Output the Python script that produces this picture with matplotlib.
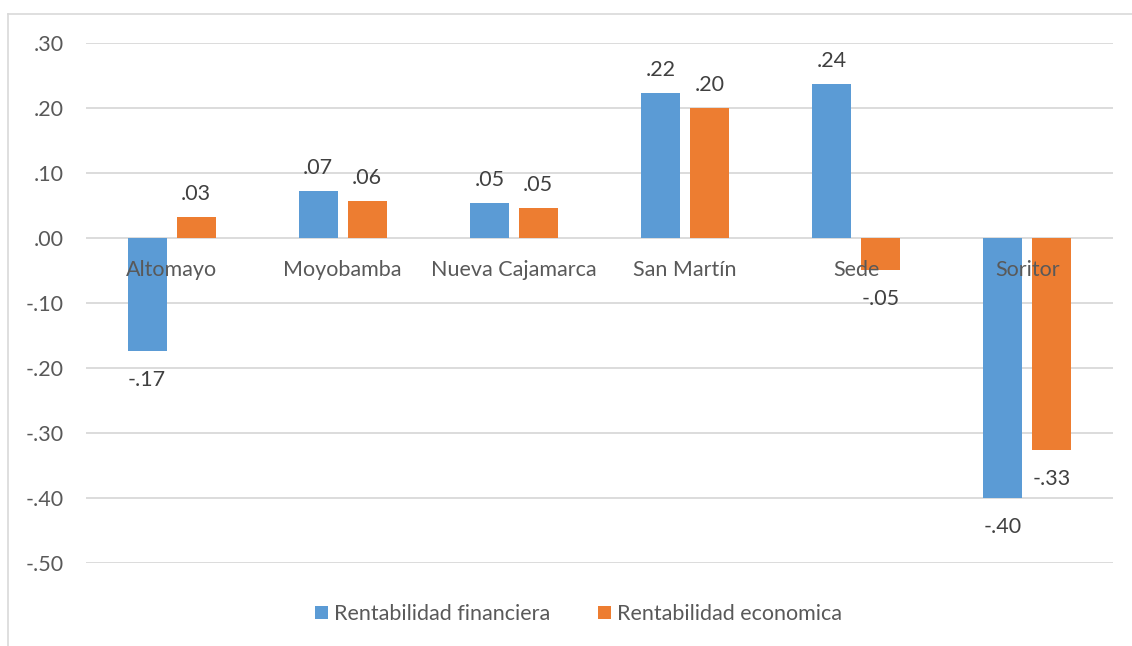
import matplotlib.pyplot as plt
import numpy as np

categories = ['Altomayo', 'Moyobamba', 'Nueva Cajamarca', 'San Martín', 'Sede', 'Soritor']
financiera = [-0.174, 0.072, 0.054, 0.223, 0.237, -0.40]
economica = [0.032, 0.057, 0.046, 0.200, -0.049, -0.326]
series_names = ['Rentabilidad financiera', 'Rentabilidad economica']
yticks = [0.3, 0.2, 0.1, 0.0, -0.1, -0.2, -0.3, -0.4, -0.5]

blue = '#5b9bd5'
orange = '#ed7d31'
plt.rcParams['font.family'] = ['Lato', 'DejaVu Sans']
fs = 15.5

fig = plt.figure(figsize=(11.32, 6.46), dpi=100)
ax = fig.add_axes([0.076, 0.1285, 0.907, 0.805])

# chart border (left and top visible)
fig.add_artist(plt.Line2D([8 / 1132, 8 / 1132], [0, 1 - 14 / 646], color='#d9d9d9', lw=1.2,
                          transform=fig.transFigure))
fig.add_artist(plt.Line2D([8 / 1132, 1], [1 - 14 / 646, 1 - 14 / 646], color='#d9d9d9', lw=1.2,
                          transform=fig.transFigure))

x = np.arange(len(categories))
w = 0.228
off = 0.143
b1 = ax.bar(x - off, financiera, w, color=blue, zorder=3, label=series_names[0])
b2 = ax.bar(x + off, economica, w, color=orange, zorder=3, label=series_names[1])

ax.set_xlim(-0.5, len(categories) - 0.5)
ax.set_ylim(-0.5, 0.3)
ax.set_yticks(yticks)
ax.set_yticklabels(['.30', '.20', '.10', '.00', '-.10', '-.20', '-.30', '-.40', '-.50'])
ax.tick_params(axis='y', length=0, pad=16, labelsize=fs, labelcolor='#595959')
ax.set_xticks([])
ax.grid(axis='y', color='#d9d9d9', lw=1.3, zorder=0)
for s in ax.spines.values():
    s.set_visible(False)

# category labels sitting under the zero line
for i, c in enumerate(categories):
    ax.annotate(c, (i, 0), xytext=(0, -23), textcoords='offset points', ha='center', va='center',
                fontsize=fs, color='#595959', zorder=4)

# data labels
for bars, vals in ((b1, financiera), (b2, economica)):
    for r, v in zip(bars, vals):
        txt = ('%.2f' % abs(v)).lstrip('0')
        if v < 0:
            txt = '-' + txt
        ax.annotate(txt, (r.get_x() + r.get_width() / 2, v),
                    xytext=(0, 16.5 if v >= 0 else -21), textcoords='offset points',
                    ha='center', va='center', fontsize=fs, color='#404040', zorder=4)

leg = fig.legend(handles=[b1, b2], loc='center', bbox_to_anchor=(0.511, 1 - 614 / 646), ncol=2,
                 frameon=False, fontsize=fs, handlelength=0.6, handleheight=0.6,
                 handletextpad=0.3, columnspacing=2.2)
for t in leg.get_texts():
    t.set_color('#595959')

fig.savefig('out.png', dpi=100)
